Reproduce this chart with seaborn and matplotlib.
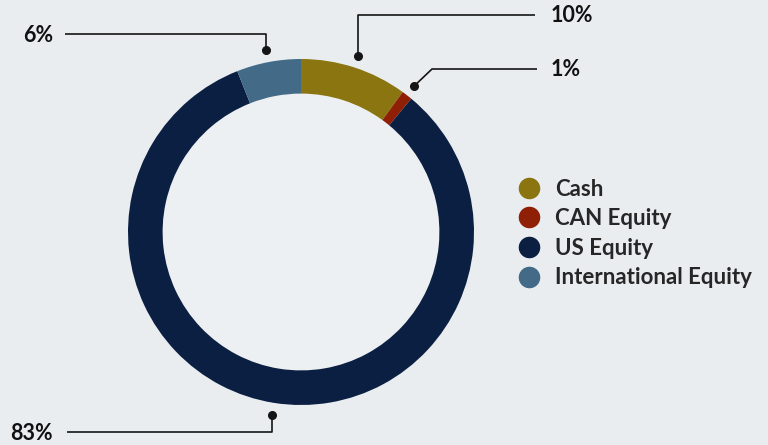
import numpy as np
import matplotlib
matplotlib.use("Agg")
import matplotlib.pyplot as plt
import seaborn as sns
from matplotlib.lines import Line2D
from matplotlib.patches import Circle

labels = ["Cash", "CAN Equity", "US Equity", "International Equity"]
values = [10, 1, 83, 6]
pct_labels = ["10%", "1%", "83%", "6%"]
colors = ["#8b7510", "#8f1f05", "#0b1f42", "#436b88"]

sns.set_theme(style="white")
plt.rcParams["font.family"] = ["Lato", "DejaVu Sans"]

BG = "#e9edf0"
W, H = 768, 445
R = 173.0          # outer radius in px
CX, CY = 301, 232  # centre in px (from top)


def px(x, y):
    # pixel (from top-left) -> data coords (radius 1 = R px)
    return (x - CX) / R, (H - y - (H - CY)) / R


fig = plt.figure(figsize=(W / 100, H / 100), dpi=100, facecolor=BG)
ax = fig.add_axes([0, 0, 1, 1])
ax.set_facecolor(BG)

wedges, _ = ax.pie(values, colors=colors, startangle=90, counterclock=False,
                   radius=1, wedgeprops=dict(width=0.2, linewidth=0))
ax.add_patch(Circle((0, 0), 0.8, color="#ecf0f2", zorder=0))

x0, y0 = px(0, H)
x1, y1 = px(W, 0)
ax.set_xlim(x0, x1)
ax.set_ylim(y0, y1)
ax.set_aspect("equal")
ax.axis("off")

# leader lines: dot at wedge mid angle, then elbows to the label
fracs = np.array(values) / sum(values)
starts = np.concatenate([[0], np.cumsum(fracs)[:-1]])
mids = starts + fracs / 2
lc = "#151515"
routes = {
    "10%": ([("v", 15), (535, 15)], 551, "left", 16),
    "1%": ([(432, 69), (537, 69)], 551, "left", 70),
    "83%": ([("v", 432), (67, 432)], 53, "right", 433),
    "6%": ([("v", 34), (65, 34)], 53, "right", 35),
}
for m, lab in zip(mids, pct_labels):
    ang = np.pi / 2 - 2 * np.pi * m
    dx, dy = 1.07 * np.cos(ang), 1.07 * np.sin(ang)
    pts, tx, ha, ty = routes[lab]
    xs, ys = [dx], [dy]
    for p in pts:
        if p[0] == "v":
            xs.append(dx)
            ys.append(px(0, p[1])[1])
        else:
            a, b = px(*p)
            xs.append(a)
            ys.append(b)
    ax.plot(xs, ys, color=lc, lw=1.2, solid_capstyle="butt")
    ax.plot([dx], [dy], "o", color=lc, ms=5.5)
    lx, ly = px(tx, ty)
    ax.text(lx, ly, lab, ha=ha, va="center", fontsize=15.5, fontweight="bold",
            color="#111111")

handles = [Line2D([], [], marker="o", ls="", ms=14.5, color=c) for c in colors]
lx, ly = px(515.7, 178.5)
ax.legend(handles, labels, loc="upper left", bbox_to_anchor=(lx, ly),
          bbox_transform=ax.transData, frameon=False,
          handlelength=1.2, handletextpad=0.57, labelspacing=0.39,
          borderpad=0, borderaxespad=0,
          prop=dict(weight="bold", size=16))

fig.savefig("out.png", dpi=100, facecolor=BG)
